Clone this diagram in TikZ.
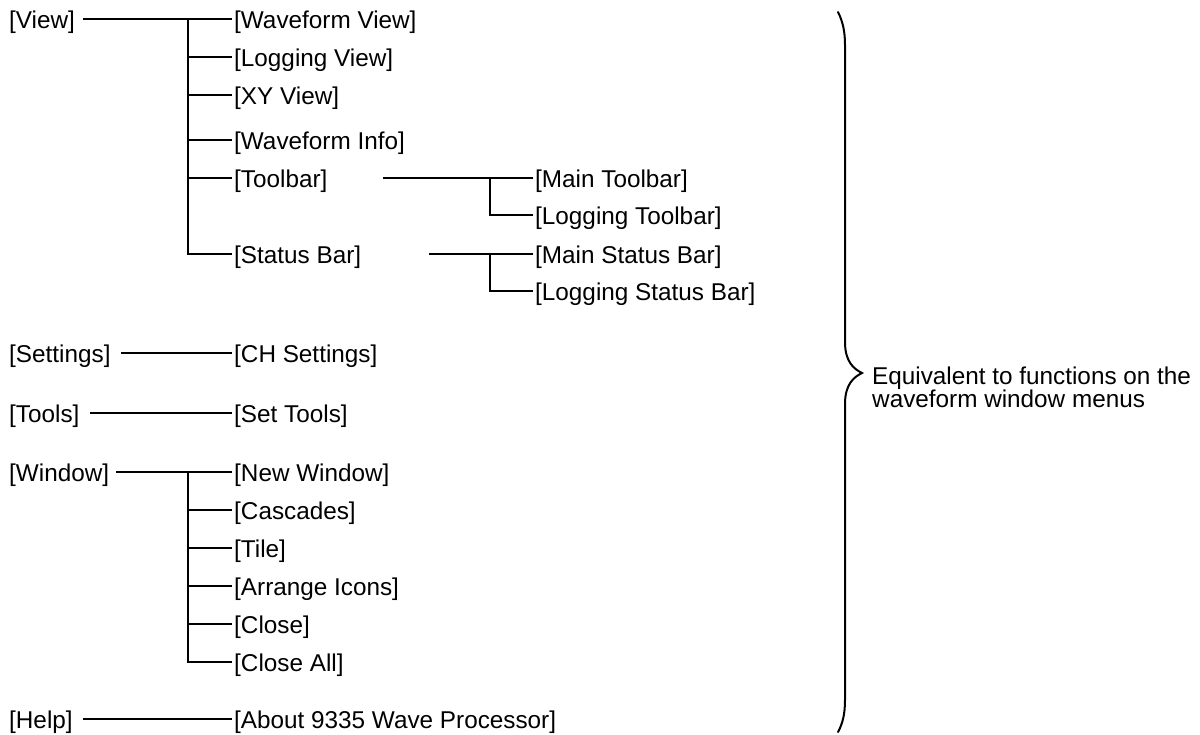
\documentclass[tikz,border=0pt]{standalone}
\usepackage{fontspec}
\setmainfont{Liberation Sans}
\begin{document}
\begin{tikzpicture}[x=1bp,y=-1bp,
  item/.style={anchor=west, inner xsep=2bp, inner ysep=0pt, text height=19.4bp, text depth=0pt,
    font=\fontsize{24.3bp}{23bp}\selectfont},
  conn/.style={line width=1.6bp},
  bracestyle/.style={line width=2bp, line cap=round}]
\useasboundingbox[fill=white] (0,0) rectangle (1200,735);

% View
\node[item] (view) at (7,19) {[View]};
\node[item] (wv) at (232,19) {[Waveform View]};
\node[item] (lv) at (232,57) {[Logging View]};
\node[item] (xy) at (232,95) {[XY View]};
\node[item] (wi) at (232,140) {[Waveform Info]};
\node[item] (tb) at (232,178) {[Toolbar]};
\node[item] (sb) at (232,254) {[Status Bar]};
\node[item] (mt) at (533,178) {[Main Toolbar]};
\node[item] (lt) at (533,215) {[Logging Toolbar]};
\node[item] (ms) at (533,254) {[Main Status Bar]};
\node[item] (ls) at (533,291) {[Logging Status Bar]};
\coordinate (viewl) at (83,19);
\coordinate (viewb) at (188,19);
\draw[conn] (viewl) -- (wv);
\foreach \n in {lv,xy,wi,tb,sb} \draw[conn] (viewb) |- (\n);
\coordinate (tbl) at (383,178);
\coordinate (tbb) at (490,178);
\draw[conn] (tbl) -- (mt);
\draw[conn] (tbb) |- (lt);
\coordinate (sbl) at (429,254);
\coordinate (sbb) at (490,254);
\draw[conn] (sbl) -- (ms);
\draw[conn] (sbb) |- (ls);

% Settings
\node[item] (set) at (7,353) {[Settings]};
\node[item] (ch) at (232,353) {[CH Settings]};
\coordinate (setl) at (121,353);
\draw[conn] (setl) -- (ch);

% Tools
\node[item] (tools) at (7,413) {[Tools]};
\node[item] (st) at (232,413) {[Set Tools]};
\coordinate (tooll) at (90,413);
\draw[conn] (tooll) -- (st);

% Window
\node[item] (win) at (7,472) {[Window]};
\node[item] (nw) at (232,472) {[New Window]};
\node[item] (cas) at (232,510) {[Cascades]};
\node[item] (tile) at (232,548) {[Tile]};
\node[item] (arr) at (232,586) {[Arrange Icons]};
\node[item] (cl) at (232,624) {[Close]};
\node[item] (cla) at (232,662) {[Close All]};
\coordinate (winl) at (116,472);
\coordinate (winb) at (188,472);
\draw[conn] (winl) -- (nw);
\foreach \n in {cas,tile,arr,cl,cla} \draw[conn] (winb) |- (\n);

% Help
\node[item] (help) at (7,719) {[Help]};
\node[item] (about) at (232,719) {[About 9335 Wave Processor]};
\coordinate (helpl) at (83,719);
\draw[conn] (helpl) -- (about);

% Brace
\draw[bracestyle] (838,12) .. controls (843,22) and (845,32) .. (845,45)
  -- (845,342) .. controls (845,362) and (854,369) .. (862,373)
  .. controls (854,377) and (845,384) .. (845,404)
  -- (845,700) .. controls (845,713) and (843,723) .. (838,732);
\node[anchor=west, align=left, inner sep=0pt,
  font=\fontsize{24.3bp}{23bp}\selectfont] (note) at (872,387)
  {Equivalent to functions on the\\waveform window menus};
\end{tikzpicture}
\end{document}
